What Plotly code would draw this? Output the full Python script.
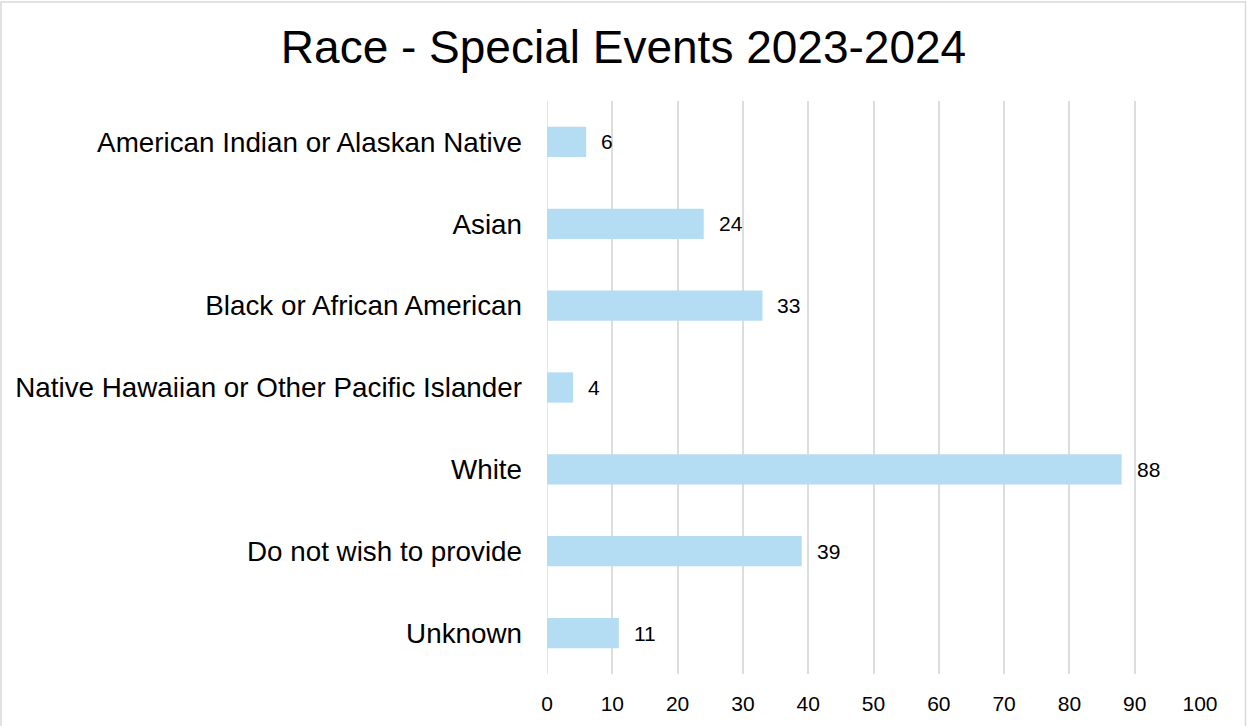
import plotly.graph_objects as go

categories = ["American Indian or Alaskan Native", "Asian", "Black or African American",
              "Native Hawaiian or Other Pacific Islander", "White", "Do not wish to provide", "Unknown"]
values = [6, 24, 33, 4, 88, 39, 11]
x_ticks = [0, 10, 20, 30, 40, 50, 60, 70, 80, 90, 100]

W, H = 1247, 726
L, R, T, B = 547, 47, 101, 52
pw = W - L - R
ph = H - T - B
FONT = "Liberation Sans, Arial, sans-serif"

fig = go.Figure(go.Bar(
    y=categories, x=values, orientation="h",
    marker=dict(color="#B4DCF2", line=dict(width=0)),
    hoverinfo="x+y",
))

annotations = [
    dict(x=v, y=c, xref="x", yref="y", text=str(v), showarrow=False,
         xanchor="left", yanchor="middle", xshift=13,
         font=dict(size=21, color="#000000", family=FONT))
    for c, v in zip(categories, values)
]

fig.update_layout(
    width=W, height=H,
    margin=dict(l=L, r=R, t=T, b=B, autoexpand=False),
    paper_bgcolor="white", plot_bgcolor="white",
    font=dict(family=FONT, color="#000000"),
    title=dict(text="Race - Special Events 2023-2024", x=0.5, xanchor="center",
               y=1 - 47 / H, yanchor="middle", font=dict(size=46, color="#000000")),
    bargap=0.63,
    showlegend=False,
    annotations=annotations,
    xaxis=dict(range=[0, 100], tickvals=x_ticks, showgrid=True, gridcolor="#DDDDDD", gridwidth=1.5,
               zeroline=False, showline=False, tickfont=dict(size=21), ticks="",
               ticklabelstandoff=15),
    yaxis=dict(categoryorder="array", categoryarray=categories[::-1], showgrid=False,
               zeroline=False, showline=False, tickfont=dict(size=27.8), ticks="",
               ticklabelstandoff=24),
    shapes=[
        dict(type="line", xref="x", yref="paper", x0=0, x1=0, y0=0, y1=1,
             line=dict(color="#DDDDDD", width=1.5), layer="below"),
        dict(type="rect", xref="paper", yref="paper",
             x0=(1 - L) / pw, x1=(1245.5 - L) / pw,
             y0=-(B + 5) / ph, y1=1 + (T - 2) / ph,
             line=dict(color="#D9D9D9", width=1.5)),
    ],
)

fig.write_html("out.html", config={"displayModeBar": False},
               post_script="document.body.style.margin='0';document.body.style.overflow='hidden';")
